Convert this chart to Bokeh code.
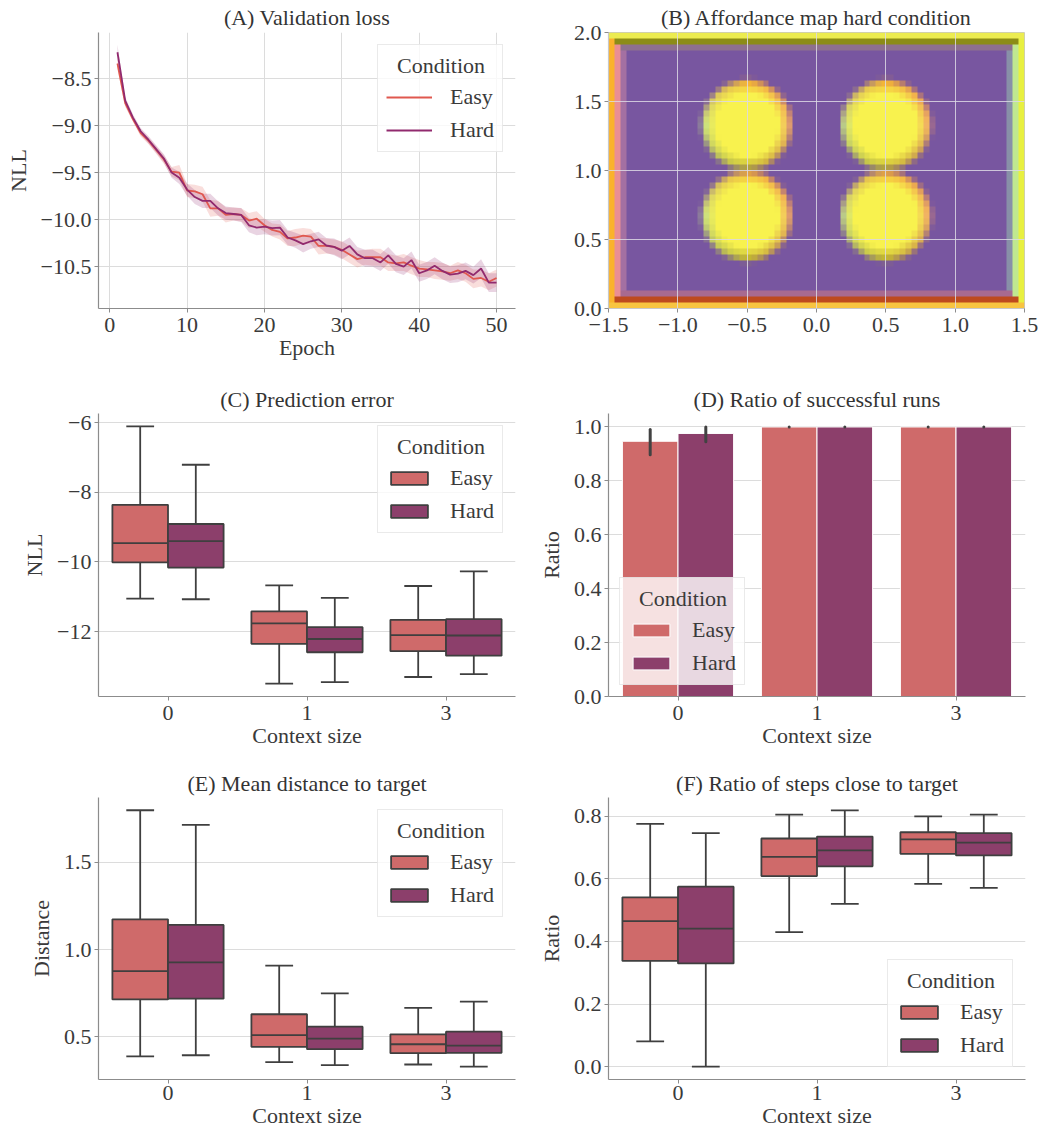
import numpy as np
from bokeh.plotting import figure
from bokeh.layouts import column, row
from bokeh.models import (Legend, LegendItem, CustomJSTickFormatter, FixedTicker, Range1d)
from bokeh.embed import file_html
from bokeh.resources import INLINE

# ---------------- data ----------------
conditions = ["Easy", "Hard"]
context_labels = ["0", "1", "3"]

epochs = list(range(1, 51))
easy_nll = [-8.34, -8.76, -8.93, -9.08, -9.16, -9.26, -9.36, -9.49, -9.50, -9.69,
            -9.70, -9.73, -9.88, -9.88, -9.95, -9.94, -9.95, -10.01, -9.99, -10.06,
            -10.11, -10.13, -10.20, -10.19, -10.17, -10.18, -10.28, -10.28, -10.29, -10.32,
            -10.37, -10.42, -10.40, -10.40, -10.40, -10.455, -10.465, -10.455, -10.49, -10.52,
            -10.53, -10.54, -10.55, -10.57, -10.54, -10.57, -10.63, -10.62, -10.66, -10.62]
hard_nll = [-8.22, -8.735, -8.915, -9.06, -9.15, -9.25, -9.35, -9.50, -9.555, -9.68,
            -9.76, -9.80, -9.80, -9.88, -9.93, -9.94, -9.95, -10.06, -10.085, -10.075,
            -10.09, -10.085, -10.19, -10.22, -10.26, -10.23, -10.21, -10.275, -10.29, -10.33,
            -10.28, -10.37, -10.41, -10.41, -10.455, -10.38, -10.47, -10.50, -10.43, -10.57,
            -10.54, -10.49, -10.545, -10.585, -10.575, -10.545, -10.59, -10.52, -10.67, -10.67]
easy_ci = [0.06, 0.04, 0.03, 0.035, 0.035, 0.04, 0.045, 0.05, 0.08, 0.07,
           0.07, 0.08, 0.09, 0.08, 0.08, 0.07, 0.07, 0.08, 0.08, 0.07,
           0.07, 0.08, 0.08, 0.09, 0.08, 0.08, 0.09, 0.08, 0.08, 0.09,
           0.09, 0.09, 0.08, 0.09, 0.09, 0.09, 0.08, 0.09, 0.09, 0.09,
           0.08, 0.09, 0.09, 0.08, 0.09, 0.09, 0.10, 0.09, 0.09, 0.09]
hard_ci = [0.08, 0.04, 0.035, 0.035, 0.04, 0.04, 0.045, 0.055, 0.065, 0.065,
           0.075, 0.075, 0.075, 0.075, 0.07, 0.07, 0.075, 0.075, 0.08, 0.08,
           0.08, 0.08, 0.08, 0.08, 0.09, 0.08, 0.08, 0.08, 0.09, 0.09,
           0.09, 0.08, 0.09, 0.09, 0.09, 0.09, 0.09, 0.09, 0.09, 0.09,
           0.09, 0.09, 0.09, 0.09, 0.09, 0.09, 0.09, 0.10, 0.10, 0.10]

# affordance map (B)
map_nx, map_ny = 70, 46
circle_x = [-0.5, 0.5]
circle_y = [0.67, 1.33]
circle_r = 0.325
map_bg = (120, 86, 160)
map_core = (248, 242, 78)
edge_right = (238, 150, 110)
edge_top = (244, 162, 44)
edge_left = (186, 218, 146)
edge_bottom = (176, 164, 36)
left_strips = [(250, 178, 44), (234, 142, 148), (164, 112, 162)]
right_strips = [(232, 240, 64), (192, 232, 144), (136, 144, 168)]
top_strips = [(236, 236, 80), (140, 140, 22), (142, 112, 142)]
bottom_strips = [(248, 196, 64), (190, 74, 30), (168, 106, 144)]

# box stats: (low whisker, q1, median, q3, high whisker) per context size
pred_easy = [(-11.05, -10.01, -9.46, -8.36, -6.11), (-13.49, -12.35, -11.76, -11.42, -10.67),
             (-13.30, -12.56, -12.10, -11.66, -10.69)]
pred_hard = [(-11.07, -10.16, -9.40, -8.91, -7.21), (-13.45, -12.59, -12.21, -11.87, -11.03),
             (-13.22, -12.69, -12.11, -11.64, -10.27)]
dist_easy = [(0.389, 0.715, 0.877, 1.174, 1.799), (0.355, 0.443, 0.510, 0.630, 0.908),
             (0.342, 0.407, 0.458, 0.515, 0.666)]
dist_hard = [(0.395, 0.719, 0.927, 1.142, 1.715), (0.338, 0.430, 0.490, 0.559, 0.750),
             (0.330, 0.409, 0.450, 0.530, 0.702)]
close_easy = [(0.081, 0.338, 0.465, 0.541, 0.776), (0.430, 0.609, 0.670, 0.729, 0.805),
              (0.584, 0.680, 0.726, 0.749, 0.800)]
close_hard = [(0.0, 0.330, 0.441, 0.575, 0.746), (0.520, 0.640, 0.691, 0.735, 0.819),
              (0.571, 0.675, 0.716, 0.746, 0.805)]

# success ratio (D)
success_easy = [0.947, 1.0, 1.0]
success_hard = [0.976, 1.0, 1.0]
success_easy_lo = [0.897, 1.0, 1.0]
success_easy_hi = [0.991, 1.0, 1.0]
success_hard_lo = [0.945, 1.0, 1.0]
success_hard_hi = [1.0, 1.0, 1.0]

# ---------------- style ----------------
FONT = "Liberation Serif"
FS = "22px"
TXT = "#3a3a3a"
SPINE = "#8c8c8c"
GRID = "#dcdcdc"
EDGE = "#3f3f3f"
EASY_LINE = "#e0584f"
HARD_LINE = "#912a6e"
EASY_FILL = "#cf6a6a"
HARD_FILL = "#8c3f6b"
LEGEND_TITLE = "\u00a0\u00a0Condition"


def fmt(dec):
    return CustomJSTickFormatter(
        code="return (tick < -1e-9 ? '\\u2212' : '') + Math.abs(tick).toFixed(%d);" % dec)


def make_fig(w, h, title, xr, yr, mbl, mbr, mbt, mbb, xstand=5, tstand=5):
    p = figure(width=w, height=h, x_range=Range1d(*xr), y_range=Range1d(*yr),
               output_backend="svg", toolbar_location=None,
               min_border_left=mbl, min_border_right=mbr,
               min_border_top=mbt, min_border_bottom=mbb)
    p.title.text = title
    p.title.text_font = FONT
    p.title.text_font_size = FS
    p.title.text_font_style = "normal"
    p.title.text_color = "#333333"
    p.title.align = "center"
    p.title.standoff = tstand
    p.outline_line_color = None
    for ax in (p.xaxis[0], p.yaxis[0]):
        ax.axis_line_color = SPINE
        ax.axis_line_width = 1.2
        ax.major_tick_line_color = SPINE
        ax.major_tick_out = 4
        ax.major_tick_in = 0
        ax.minor_tick_line_color = None
        ax.major_label_text_font = FONT
        ax.major_label_text_font_size = FS
        ax.major_label_text_color = TXT
        ax.axis_label_text_font = FONT
        ax.axis_label_text_font_size = FS
        ax.axis_label_text_font_style = "normal"
        ax.axis_label_text_color = TXT
        ax.major_label_standoff = 3
    p.xaxis.major_label_standoff = xstand
    p.xaxis.axis_label_standoff = 0
    p.yaxis.axis_label_standoff = 7
    p.xgrid.grid_line_color = GRID
    p.ygrid.grid_line_color = GRID
    return p


def add_legend(p, items, loc, margin):
    lg = Legend(items=items, location=loc, margin=margin)
    lg.title = LEGEND_TITLE
    lg.title_text_font = FONT
    lg.title_text_font_size = FS
    lg.title_text_font_style = "normal"
    lg.title_text_color = TXT
    lg.title_standoff = 5
    lg.label_text_font = FONT
    lg.label_text_font_size = FS
    lg.label_text_color = TXT
    lg.glyph_width = 46
    lg.glyph_height = 16
    lg.label_height = 24
    lg.label_standoff = 18
    lg.spacing = 7
    lg.padding = 8
    lg.border_line_color = "#d6d6d6"
    lg.border_line_width = 1
    lg.background_fill_color = "white"
    lg.background_fill_alpha = 0.8
    p.add_layout(lg)
    return lg


def cat_axis(p):
    p.xaxis.ticker = FixedTicker(ticks=[0, 1, 2])
    p.xaxis.major_label_overrides = {0: context_labels[0], 1: context_labels[1], 2: context_labels[2]}
    p.xaxis.axis_label = "Context size"
    p.xgrid.grid_line_color = None


def boxplot(p, series, fills):
    rends = []
    for k, (stats, fill) in enumerate(zip(series, fills)):
        off = -0.2 if k == 0 else 0.2
        xs = [i + off for i in range(len(stats))]
        low = [s[0] for s in stats]
        q1 = [s[1] for s in stats]
        med = [s[2] for s in stats]
        q3 = [s[3] for s in stats]
        high = [s[4] for s in stats]
        p.segment(x0=xs, y0=q3, x1=xs, y1=high, line_color=EDGE, line_width=1.8)
        p.segment(x0=xs, y0=low, x1=xs, y1=q1, line_color=EDGE, line_width=1.8)
        p.segment(x0=[x - 0.1 for x in xs], y0=high, x1=[x + 0.1 for x in xs], y1=high,
                  line_color=EDGE, line_width=1.8)
        p.segment(x0=[x - 0.1 for x in xs], y0=low, x1=[x + 0.1 for x in xs], y1=low,
                  line_color=EDGE, line_width=1.8)
        r = p.vbar(x=xs, width=0.4, bottom=q1, top=q3, fill_color=fill,
                   line_color=EDGE, line_width=1.8)
        p.segment(x0=[x - 0.2 for x in xs], y0=med, x1=[x + 0.2 for x in xs], y1=med,
                  line_color=EDGE, line_width=1.8)
        rends.append(r)
    return rends


# ---------------- (A) ----------------
pA = make_fig(520, 378, "(A) Validation loss", (-1.45, 52.45), (-10.945, -8.01), 98, 5, 30, 66)
pA.xaxis.ticker = FixedTicker(ticks=[0, 10, 20, 30, 40, 50])
pA.yaxis.ticker = FixedTicker(ticks=[-10.5, -10.0, -9.5, -9.0, -8.5])
pA.yaxis.formatter = fmt(1)
pA.xaxis.axis_label = "Epoch"
pA.yaxis.axis_label = "NLL"
lines = []
for vals, ci, col in ((easy_nll, easy_ci, EASY_LINE), (hard_nll, hard_ci, HARD_LINE)):
    lo = [v - c for v, c in zip(vals, ci)]
    hi = [v + c for v, c in zip(vals, ci)]
    pA.varea(x=epochs, y1=lo, y2=hi, fill_color=col, fill_alpha=0.2)
for vals, col in ((easy_nll, EASY_LINE), (hard_nll, HARD_LINE)):
    lines.append(pA.line(epochs, vals, line_color=col, line_width=1.8))
add_legend(pA, [LegendItem(label=conditions[0], renderers=[lines[0]]),
                LegendItem(label=conditions[1], renderers=[lines[1]])], "top_right", 12)

# ---------------- (B) ----------------
pB = make_fig(518, 378, "(B) Affordance map hard condition", (-1.5, 1.5), (0.0, 2.0), 88, 14, 32, 70)
pB.xaxis.ticker = FixedTicker(ticks=[-1.5, -1.0, -0.5, 0.0, 0.5, 1.0, 1.5])
pB.yaxis.ticker = FixedTicker(ticks=[0.0, 0.5, 1.0, 1.5, 2.0])
pB.xaxis.formatter = fmt(1)
pB.yaxis.formatter = fmt(1)
pB.outline_line_color = "#c8c8c8"
pB.xaxis.axis_line_color = "#c8c8c8"
pB.yaxis.axis_line_color = "#c8c8c8"

dx = 3.0 / map_nx
dy = 2.0 / map_ny
xc = -1.5 + (np.arange(map_nx) + 0.5) * dx
yc = (np.arange(map_ny) + 0.5) * dy
XX, YY = np.meshgrid(xc, yc)
img = np.zeros((map_ny, map_nx, 3), dtype=float)
img[:] = map_bg
for cx in circle_x:
    for cy in circle_y:
        ddx = XX - cx
        ddy = YY - cy
        d = np.hypot(ddx, ddy)
        cos = ddx / np.maximum(d, 1e-9)
        sin = ddy / np.maximum(d, 1e-9)
        wr = np.maximum(cos, 0)
        wl = np.maximum(-cos, 0)
        wt = np.maximum(sin, 0)
        wb = np.maximum(-sin, 0)
        wsum = wr + wl + wt + wb + 1e-9
        edge = (wr[..., None] * np.array(edge_right) + wl[..., None] * np.array(edge_left)
                + wt[..., None] * np.array(edge_top) + wb[..., None] * np.array(edge_bottom)) / wsum[..., None]
        t = np.clip((circle_r - d) / 0.05 + 0.5, 0, 1)[..., None]
        s = np.clip((circle_r - d) / 0.1, 0, 1)[..., None]
        inner = np.array(map_core) * s + edge * (1 - s)
        img = img * (1 - t) + inner * t
for layer in (2, 1, 0):
    img[:, layer] = left_strips[layer]
    img[:, map_nx - 1 - layer] = right_strips[layer]
    img[map_ny - 1 - layer, :] = top_strips[layer]
    img[layer, :] = bottom_strips[layer]
rgba = np.zeros((map_ny, map_nx, 4), dtype=np.uint8)
rgba[..., :3] = np.clip(img, 0, 255).astype(np.uint8)
rgba[..., 3] = 255
img32 = rgba.view(np.uint32).reshape(map_ny, map_nx)
pB.image_rgba(image=[img32], x=-1.5, y=0, dw=3, dh=2)
pB.xgrid.level = "overlay"
pB.ygrid.level = "overlay"
pB.xgrid.grid_line_color = "#dcd8e4"
pB.ygrid.grid_line_color = "#dcd8e4"
pB.xgrid.grid_line_alpha = 0.85
pB.ygrid.grid_line_alpha = 0.85

# ---------------- (C) ----------------
pC = make_fig(520, 382, "(C) Prediction error", (-0.5, 2.5), (-13.86, -5.74), 98, 5, 35, 64, 5, 4)
cat_axis(pC)
pC.yaxis.ticker = FixedTicker(ticks=[-12, -10, -8, -6])
pC.yaxis.formatter = fmt(0)
pC.yaxis.axis_label = "NLL"
rC = boxplot(pC, [pred_easy, pred_hard], [EASY_FILL, HARD_FILL])
add_legend(pC, [LegendItem(label=conditions[0], renderers=[rC[0]]),
                LegendItem(label=conditions[1], renderers=[rC[1]])], "top_right", 12)

# ---------------- (D) ----------------
pD = make_fig(518, 382, "(D) Ratio of successful runs", (-0.5, 2.5), (0.0, 1.05), 88, 13, 35, 64, 5, 4)
cat_axis(pD)
pD.yaxis.ticker = FixedTicker(ticks=[0.0, 0.2, 0.4, 0.6, 0.8, 1.0])
pD.yaxis.formatter = fmt(1)
pD.yaxis.axis_label = "Ratio"
rD = []
for k, (vals, fill) in enumerate(((success_easy, EASY_FILL), (success_hard, HARD_FILL))):
    off = -0.2 if k == 0 else 0.2
    xs = [i + off for i in range(3)]
    rD.append(pD.vbar(x=xs, width=0.4, bottom=0, top=vals, fill_color=fill,
                      line_color="white", line_width=1))
for k, (lo, hi) in enumerate(((success_easy_lo, success_easy_hi), (success_hard_lo, success_hard_hi))):
    off = -0.2 if k == 0 else 0.2
    xs = [i + off for i in range(3)]
    pD.segment(x0=xs, y0=lo, x1=xs, y1=hi, line_color="#424242", line_width=3, line_cap="round")
add_legend(pD, [LegendItem(label=conditions[0], renderers=[rD[0]]),
                LegendItem(label=conditions[1], renderers=[rD[1]])], "bottom_left", 11)

# ---------------- (E) ----------------
pE = make_fig(520, 372, "(E) Mean distance to target", (-0.5, 2.5), (0.256, 1.872), 98, 5, 37, 53, 2, 4)
cat_axis(pE)
pE.yaxis.ticker = FixedTicker(ticks=[0.5, 1.0, 1.5])
pE.yaxis.formatter = fmt(1)
pE.yaxis.axis_label = "Distance"
rE = boxplot(pE, [dist_easy, dist_hard], [EASY_FILL, HARD_FILL])
add_legend(pE, [LegendItem(label=conditions[0], renderers=[rE[0]]),
                LegendItem(label=conditions[1], renderers=[rE[1]])], "top_right", 12)

# ---------------- (F) ----------------
pF = make_fig(518, 372, "(F) Ratio of steps close to target", (-0.5, 2.5), (-0.041, 0.860), 88, 13, 37, 53, 2, 4)
cat_axis(pF)
pF.yaxis.ticker = FixedTicker(ticks=[0.0, 0.2, 0.4, 0.6, 0.8])
pF.yaxis.formatter = fmt(1)
pF.yaxis.axis_label = "Ratio"
rF = boxplot(pF, [close_easy, close_hard], [EASY_FILL, HARD_FILL])
add_legend(pF, [LegendItem(label=conditions[0], renderers=[rF[0]]),
                LegendItem(label=conditions[1], renderers=[rF[1]])], "bottom_right", 12)

layout = column(row(pA, pB), row(pC, pD), row(pE, pF))
open("out.html", "w").write(file_html(layout, INLINE))
